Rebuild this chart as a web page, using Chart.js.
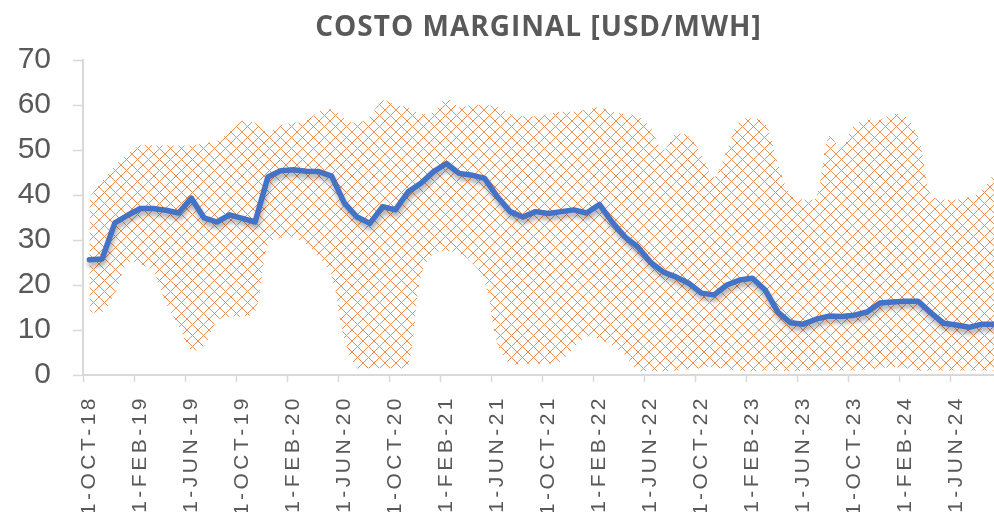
<!DOCTYPE html>
<html>
<head>
<meta charset="utf-8">
<script src="https://cdn.jsdelivr.net/npm/chart.js@4/dist/chart.umd.min.js"></script>
<style>
  html, body { margin: 0; padding: 0; background: #ffffff; overflow: hidden; }
  #wrap { width: 1075px; height: 512px; }
</style>
</head>
<body>
<div id="wrap"><canvas id="c" width="1075" height="512"></canvas></div>
<script>
const titleText = 'COSTO MARGINAL [USD/MWH]';

const months = [
  '1-OCT-18','1-NOV-18','1-DEC-18',
  '1-JAN-19','1-FEB-19','1-MAR-19','1-APR-19','1-MAY-19','1-JUN-19','1-JUL-19','1-AUG-19','1-SEP-19','1-OCT-19','1-NOV-19','1-DEC-19',
  '1-JAN-20','1-FEB-20','1-MAR-20','1-APR-20','1-MAY-20','1-JUN-20','1-JUL-20','1-AUG-20','1-SEP-20','1-OCT-20','1-NOV-20','1-DEC-20',
  '1-JAN-21','1-FEB-21','1-MAR-21','1-APR-21','1-MAY-21','1-JUN-21','1-JUL-21','1-AUG-21','1-SEP-21','1-OCT-21','1-NOV-21','1-DEC-21',
  '1-JAN-22','1-FEB-22','1-MAR-22','1-APR-22','1-MAY-22','1-JUN-22','1-JUL-22','1-AUG-22','1-SEP-22','1-OCT-22','1-NOV-22','1-DEC-22',
  '1-JAN-23','1-FEB-23','1-MAR-23','1-APR-23','1-MAY-23','1-JUN-23','1-JUL-23','1-AUG-23','1-SEP-23','1-OCT-23','1-NOV-23','1-DEC-23',
  '1-JAN-24','1-FEB-24','1-MAR-24','1-APR-24','1-MAY-24','1-JUN-24','1-JUL-24','1-AUG-24','1-SEP-24'
];

// Monthly marginal cost (blue line)
const costoMarginal = [
  25.6, 25.8, 33.8, 35.5, 37, 37, 36.6, 36, 39.3, 34.9,
  34, 35.6, 34.8, 34, 44, 45.4, 45.6, 45.3, 45.2, 44.2,
  38.2, 35.1, 33.7, 37.4, 36.7, 40.7, 42.6, 45.2, 47, 44.8,
  44.4, 43.7, 39.6, 36.3, 35.1, 36.3, 35.9, 36.3, 36.7, 36,
  37.9, 34, 30.7, 28.5, 25.1, 22.9, 21.8, 20.4, 18.2, 17.8,
  20, 21.1, 21.5, 18.9, 14, 11.6, 11.3, 12.4, 13.1, 13,
  13.3, 14, 16, 16.2, 16.4, 16.4, 13.8, 11.5, 11.1, 10.6,
  11.3, 11.3
];

// Range band (hatched area): lower and upper limits
const rangoMin = [
  14, 14, 18, 25, 24.5, 23, 16, 11, 5.5, 6.5,
  12, 13, 13, 14, 29, 30.5, 30.5, 29, 26.3, 22,
  8, 1.5, 1.5, 1.5, 1.5, 2, 22, 27, 27.5, 27,
  25, 21, 7, 2.5, 2.5, 2.5, 2.5, 3, 6, 8.5,
  8, 6.5, 4.5, 1, 1, 0.8, 1, 1.2, 1.5, 1.8,
  1.2, 1, 0.8, 1, 1, 0.8, 1, 1, 1, 1,
  1, 1.2, 1.5, 1.8, 1.5, 1, 1, 1, 1, 1,
  1, 1
];
const rangoMax = [
  39.5, 43, 46.5, 49, 51, 51, 51, 51, 51, 51.5,
  52, 54, 56.5, 56, 54, 55.5, 56, 56.5, 58.5, 59,
  57, 56, 57.5, 61, 60, 59.5, 58, 58.5, 61.5, 59.5,
  60, 60, 59.5, 58, 57.5, 57.5, 58, 58.5, 58.5, 59,
  59.5, 58.5, 58, 57.5, 55, 50, 53.5, 53, 49, 44,
  50, 56.5, 57, 56, 47, 40, 39, 39.5, 53, 50.5,
  55.5, 56.7, 56.7, 58, 57.5, 53, 40, 39, 39, 39.5,
  41, 45
];

const yTicks = [0, 10, 20, 30, 40, 50, 60, 70];

function makeHatch() {
  const s = 11;
  const pc = document.createElement('canvas');
  pc.width = s; pc.height = s;
  const p = pc.getContext('2d');
  p.fillStyle = 'rgba(237,125,49,0.85)';
  for (let i = 0; i < s; i++) {
    p.fillRect(i, i, 1, 1);
    if (s - 1 - i !== i) p.fillRect(s - 1 - i, i, 1, 1);
  }
  return p.createPattern(pc, 'repeat');
}

const hatch = makeHatch();
const grey = '#595959';
const axisGrey = '#d9d9d9';

const shadowPlugin = {
  id: 'lineShadow',
  beforeDatasetDraw(chart, args) {
    if (args.index === 0) {
      const ctx = chart.ctx;
      ctx.save();
      ctx.shadowColor = 'rgba(0,0,0,0.35)';
      ctx.shadowBlur = 5;
      ctx.shadowOffsetX = 1;
      ctx.shadowOffsetY = 4;
    }
  },
  afterDatasetDraw(chart, args) {
    if (args.index === 0) chart.ctx.restore();
  }
};

const spacingPlugin = {
  id: 'spacing',
  afterLayout(chart) {
    const xs = chart.scales.x;
    if (xs && !xs._wrapped) {
      const orig = xs.drawLabels;
      xs.drawLabels = function (area) {
        const ctx = chart.ctx;
        const prev = ctx.letterSpacing;
        ctx.letterSpacing = '3.5px';
        orig.call(this, area);
        ctx.letterSpacing = prev || '0px';
      };
      xs._wrapped = true;
    }
    const tb = chart.titleBlock;
    if (tb && !tb._wrapped) {
      const origT = tb.draw;
      tb.draw = function () {
        const ctx = chart.ctx;
        const prev = ctx.letterSpacing;
        ctx.save();
        ctx.translate(38, 0);
        ctx.letterSpacing = '1px';
        origT.call(this);
        ctx.restore();
        ctx.letterSpacing = prev || '0px';
      };
      tb._wrapped = true;
    }
  }
};

new Chart(document.getElementById('c'), {
  type: 'line',
  data: {
    labels: months,
    datasets: [
      {
        label: 'Costo marginal',
        data: costoMarginal,
        borderColor: '#4472C4',
        borderWidth: 5.5,
        pointRadius: 0,
        tension: 0,
        fill: false,
        borderJoinStyle: 'round',
        borderCapStyle: 'round',
        order: 0
      },
      {
        label: 'Mínimo',
        data: rangoMin,
        borderWidth: 0,
        borderColor: 'rgba(0,0,0,0)',
        pointRadius: 0,
        tension: 0.35,
        fill: false,
        order: 1
      },
      {
        label: 'Máximo',
        data: rangoMax,
        borderWidth: 0,
        borderColor: 'rgba(0,0,0,0)',
        backgroundColor: hatch,
        pointRadius: 0,
        tension: 0.35,
        fill: '-1',
        order: 2
      }
    ]
  },
  options: {
    responsive: false,
    animation: false,
    devicePixelRatio: 1,
    layout: { padding: { left: 0, right: 74, top: 0, bottom: 0 } },
    plugins: {
      legend: { display: false },
      tooltip: { enabled: false },
      title: {
        display: true,
        text: titleText,
        color: grey,
        font: { family: '"Open Sans", sans-serif', size: 28, weight: 'bold', lineHeight: 1.2 },
        padding: { top: 11, bottom: 15.4 }
      }
    },
    scales: {
      x: {
        type: 'category',
        offset: true,
        afterFit(scale) { scale.height = 137; },
        grid: {
          offset: true,
          drawOnChartArea: false,
          drawTicks: true,
          tickLength: 7,
          tickWidth: 1.5,
          tickColor: (ctx) => (ctx.index % 4 === 0 ? axisGrey : 'rgba(0,0,0,0)')
        },
        border: { display: true, color: axisGrey, width: 2 },
        ticks: {
          autoSkip: false,
          minRotation: 90,
          maxRotation: 90,
          padding: 13,
          color: grey,
          font: { family: '"Liberation Sans", Arial, sans-serif', size: 21 },
          callback: function (value, index) {
            return index % 4 === 0 ? this.getLabelForValue(value) : '';
          }
        }
      },
      y: {
        min: 0,
        max: 70,
        afterFit(scale) { scale.width = 83; },
        afterBuildTicks(scale) { scale.ticks = yTicks.map(v => ({ value: v })); },
        grid: {
          drawOnChartArea: false,
          drawTicks: true,
          tickLength: 10,
          tickWidth: 1.5,
          tickColor: axisGrey
        },
        border: { display: true, color: axisGrey, width: 2 },
        ticks: {
          padding: 22,
          color: grey,
          font: { family: '"Liberation Sans", Arial, sans-serif', size: 30 }
        }
      }
    }
  },
  plugins: [shadowPlugin, spacingPlugin]
});
</script>
</body>
</html>
